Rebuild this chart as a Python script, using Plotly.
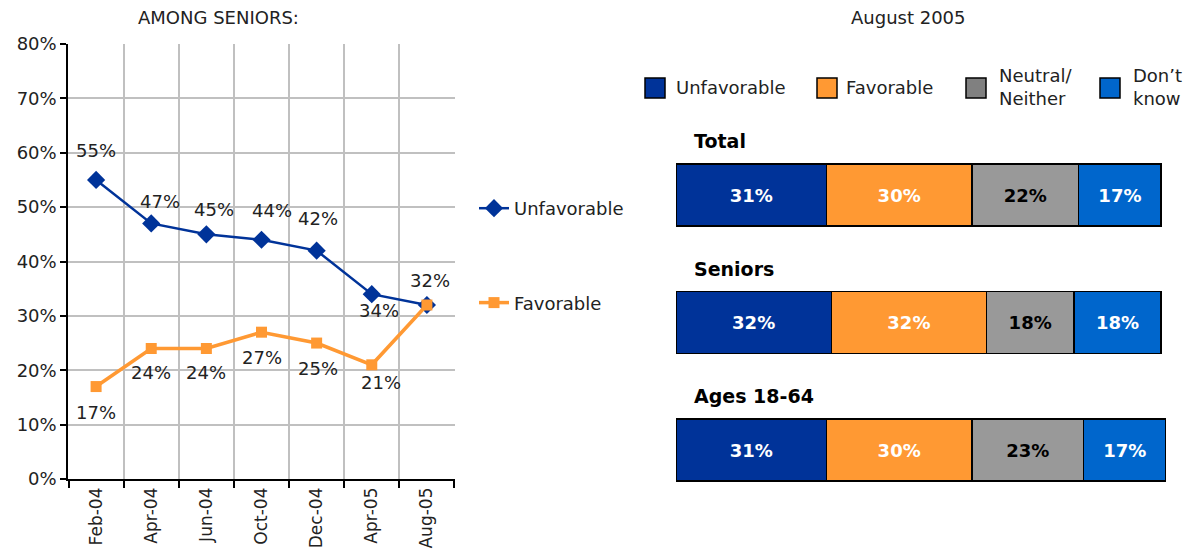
import plotly.graph_objects as go

# ---------------- data ----------------
dates = ["Feb-04", "Apr-04", "Jun-04", "Oct-04", "Dec-04", "Apr-05", "Aug-05"]
unfav_seniors = [55, 47, 45, 44, 42, 34, 32]
fav_seniors = [17, 24, 24, 27, 25, 21, 32]
fav_show_label = [True, True, True, True, True, True, False]

groups = ["Total", "Seniors", "Ages 18-64"]
bar_unfav = [31, 32, 31]
bar_fav = [30, 32, 30]
bar_neutral = [22, 18, 23]
bar_dk = [17, 18, 17]
bar_series_names = ["Unfavorable", "Favorable", "Neutral/<br>Neither", "Don\u2019t<br>know"]

# ---------------- styles ----------------
C_UNF = "#003399"
C_FAV = "#FF9933"
C_NEU = "#999999"
C_NEU_LEG = "#808080"
C_DK = "#0066CC"
FONT = "DejaVu Sans"
TXT = "#222222"
W, H = 1194, 559
# data-label pixel offsets (dx, dy; dy positive = upwards)
unfav_lbl_off = [(0, 29), (9, 22), (8, 25), (10, 29), (1, 32), (7, -16), (3, 25)]
fav_lbl_off = [(0, -26), (0, -24), (0, -24), (0, -25), (1, -25), (9, -18), (0, 0)]

def px_x(p):
    return p / W

def px_y(p):
    return 1 - p / H

fig = go.Figure()

# ---------------- line chart ----------------
fig.add_trace(go.Scatter(
    x=dates, y=unfav_seniors, name="Unfavorable", mode="lines+markers",
    line=dict(color=C_UNF, width=2.5), marker=dict(symbol="diamond", size=14, color=C_UNF),
    xaxis="x", yaxis="y", legend="legend", legendgroup="u",
))
fig.add_trace(go.Scatter(
    x=dates, y=fav_seniors, name="Favorable", mode="lines+markers",
    line=dict(color=C_FAV, width=3.5), marker=dict(symbol="square", size=11, color=C_FAV),
    xaxis="x", yaxis="y", legend="legend", legendgroup="f",
))

annotations = []
for d, v, (dx, dy) in zip(dates, unfav_seniors, unfav_lbl_off):
    annotations.append(dict(text=f"{v}%", x=d, y=v, xref="x", yref="y", showarrow=False,
                            xshift=dx, yshift=dy, xanchor="center", yanchor="middle",
                            font=dict(size=18, color=TXT)))
for d, v, s, (dx, dy) in zip(dates, fav_seniors, fav_show_label, fav_lbl_off):
    if s:
        annotations.append(dict(text=f"{v}%", x=d, y=v, xref="x", yref="y", showarrow=False,
                                xshift=dx, yshift=dy, xanchor="center", yanchor="middle",
                                font=dict(size=18, color=TXT)))

# ---------------- stacked bars ----------------
bar_vals = [bar_unfav, bar_fav, bar_neutral, bar_dk]
bar_cols = [C_UNF, C_FAV, C_NEU, C_DK]
bar_txtcol = ["white", "white", "black", "white"]
for name, vals, col, tc in zip(bar_series_names, bar_vals, bar_cols, bar_txtcol):
    fig.add_trace(go.Bar(
        y=groups, x=vals, orientation="h", name=name, width=0.49,
        marker=dict(color=col, line=dict(color="black", width=1.5)),
        text=[f"{v}%" for v in vals], textposition="inside", insidetextanchor="middle",
        textfont=dict(family=FONT, size=18, color=tc),
        texttemplate="<b>%{text}</b>",
        xaxis="x2", yaxis="y2", showlegend=False, hoverinfo="skip",
    ))

# ---------------- layout ----------------
fig.update_layout(
    width=W, height=H, margin=dict(l=0, r=0, t=0, b=0),
    paper_bgcolor="white", plot_bgcolor="white",
    font=dict(family=FONT, size=18, color=TXT),
    barmode="stack",
    xaxis=dict(
        domain=[px_x(68), px_x(455)], type="category", tickson="boundaries",
        showgrid=True, gridcolor="#c0c0c0", gridwidth=2,
        showline=True, linecolor="black", linewidth=1.5,
        ticks="outside", ticklen=7, tickcolor="black", tickwidth=1.5,
        tickangle=-90, tickfont=dict(size=17), automargin=False,
        fixedrange=True, anchor="y",
    ),
    yaxis=dict(
        domain=[px_y(479), px_y(44)], range=[0, 80], dtick=10, ticksuffix="%",
        showgrid=True, gridcolor="#c0c0c0", gridwidth=2,
        showline=True, linecolor="black", linewidth=1.5,
        ticks="outside", ticklen=6, tickcolor="black", tickwidth=1.5,
        tickfont=dict(size=18), automargin=False, zeroline=False, anchor="x",
    ),
    xaxis2=dict(
        domain=[px_x(676), px_x(1166)], range=[0, 101], visible=False,
        anchor="y2", automargin=False,
    ),
    yaxis2=dict(
        domain=[px_y(513.75), px_y(131.25)], range=[2.5, -0.5], type="category",
        categoryarray=groups, visible=False, anchor="x2", automargin=False,
    ),
    legend=dict(
        x=px_x(474), y=px_y(190), xanchor="left", yanchor="top",
        bgcolor="rgba(0,0,0,0)", tracegroupgap=68, traceorder="grouped",
        font=dict(family=FONT, size=18, color=TXT),
    ),
    showlegend=True,
)

annotations += [
    dict(text="AMONG SENIORS:", x=px_x(218), y=px_y(18), xref="paper", yref="paper",
         showarrow=False, font=dict(size=18), xanchor="center", yanchor="middle"),
    dict(text="August 2005", x=px_x(908), y=px_y(18), xref="paper", yref="paper",
         showarrow=False, font=dict(size=18), xanchor="center", yanchor="middle"),
]
# group labels above bars
for g in groups:
    annotations.append(dict(text=f"<b>{g}</b>", x=0, y=g, xref="x2", yref="y2",
                            xshift=16, yshift=54, xanchor="left", yanchor="middle",
                            showarrow=False, font=dict(size=19, color="black")))

# manual legend for stacked bars
shapes = []
leg_sq_x = [645, 817, 966, 1100]
leg_txt_x = [676, 846, 999, 1133]
leg_cols = [C_UNF, C_FAV, C_NEU_LEG, C_DK]
for sx, tx, col, name in zip(leg_sq_x, leg_txt_x, leg_cols, bar_series_names):
    shapes.append(dict(type="rect", xref="paper", yref="paper",
                       x0=px_x(sx), x1=px_x(sx + 20), y0=px_y(98), y1=px_y(78),
                       fillcolor=col, line=dict(color="black", width=1.5)))
    annotations.append(dict(text=name, x=px_x(tx - 2), y=px_y(87), xref="paper", yref="paper",
                            xanchor="left", yanchor="middle", align="left", showarrow=False,
                            font=dict(size=18, color=TXT)))

fig.update_layout(annotations=annotations, shapes=shapes)
fig.write_html("out.html", config={"displayModeBar": False},
               post_script="document.body.style.margin='0';")
